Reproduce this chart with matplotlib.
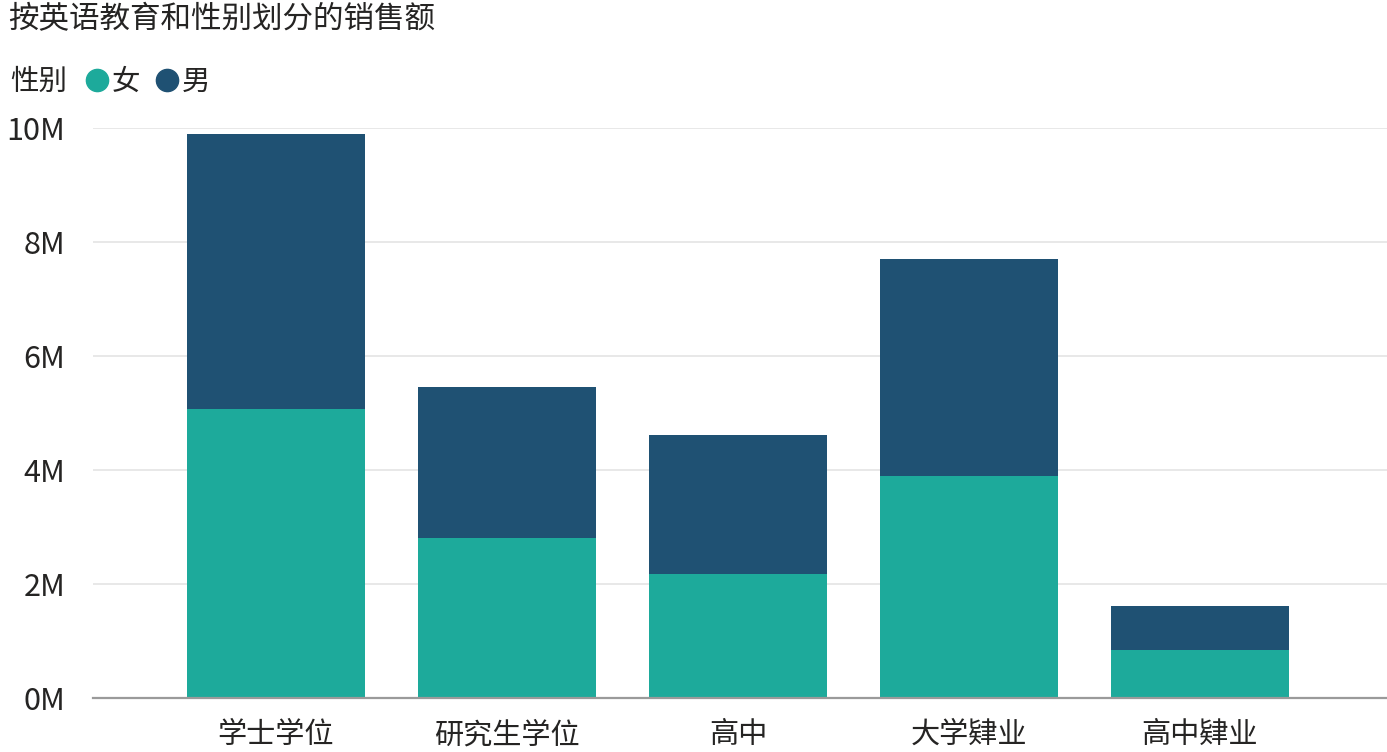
import matplotlib
matplotlib.use("Agg")
import matplotlib.pyplot as plt
from matplotlib.lines import Line2D

plt.rcParams['font.family'] = ['Noto Sans CJK SC', 'DejaVu Sans']

categories = ['学士学位', '研究生学位', '高中', '大学肄业', '高中肄业']
female = [5.07, 2.81, 2.17, 3.90, 0.84]   # millions
male = [4.83, 2.65, 2.44, 3.80, 0.77]     # millions
series_names = ['女', '男']
legend_title = '性别'
yticks = [0, 2, 4, 6, 8, 10]
ytick_labels = ['0M', '2M', '4M', '6M', '8M', '10M']

c_female = '#1DAA9B'
c_male = '#1F5173'
text_c = '#252423'

fig = plt.figure(figsize=(13.87, 7.52), dpi=100)
ax = fig.add_axes([93/1387, 1-698/752, 1-93/1387, (698-128)/752])

x = list(range(len(categories)))
ax.bar(x, female, width=0.77, color=c_female, zorder=3)
ax.bar(x, male, width=0.77, bottom=female, color=c_male, zorder=3)

ax.set_xlim(-0.792, 4.81)
ax.set_ylim(0, 10)
ax.set_yticks(yticks)
ax.set_yticklabels(ytick_labels)
ax.set_xticks(x)
ax.set_xticklabels(categories)
ax.tick_params(axis='both', length=0, colors=text_c)
ax.tick_params(axis='y', labelsize=22, pad=20)
ax.tick_params(axis='x', labelsize=21, pad=16)
ax.yaxis.grid(True, color='#E6E6E6', linewidth=1.3, zorder=0)
ax.set_axisbelow(True)
for s in ['top', 'right', 'left']:
    ax.spines[s].set_visible(False)
ax.spines['bottom'].set_color('#9A9A9A')
ax.spines['bottom'].set_linewidth(1.6)
ax.spines['bottom'].set_zorder(4)

fig.text(8/1387, 1-20/752, '按英语教育和性别划分的销售额', fontsize=22, color=text_c,
         ha='left', va='center')
fig.text(10/1387, 1-82/752, legend_title, fontsize=20.5, color=text_c,
         ha='left', va='center')

handles = [Line2D([], [], marker='o', linestyle='none', markersize=16,
                  markerfacecolor=c, markeredgecolor=c) for c in (c_female, c_male)]
leg = fig.legend(handles, series_names, loc='center left',
                 bbox_to_anchor=(86/1387, 1-82/752), ncol=2, frameon=False,
                 fontsize=20.5, handlelength=0.8, handletextpad=0.1,
                 columnspacing=0.55, borderaxespad=0, borderpad=0)
for t in leg.texts:
    t.set_color(text_c)

fig.savefig('out.png', dpi=100)
